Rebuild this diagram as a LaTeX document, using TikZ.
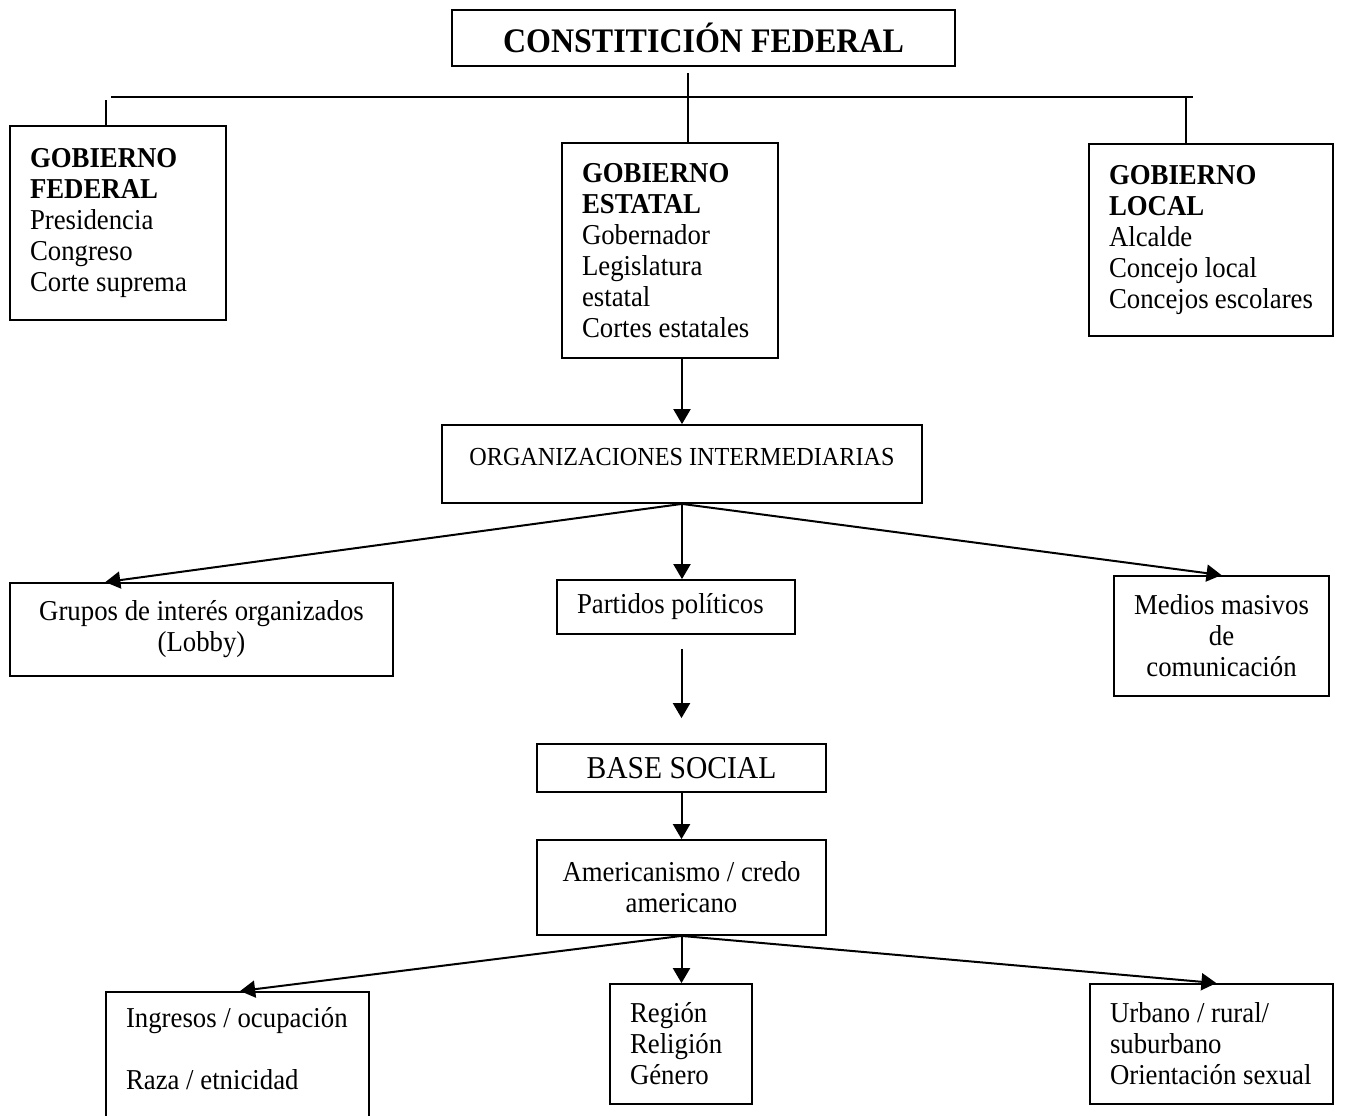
\documentclass[tikz,border=0pt]{standalone}
\usepackage{fontspec}
\setmainfont[FakeStretch=0.93]{Liberation Serif}
\usetikzlibrary{arrows.meta, calc}

\begin{document}
\begin{tikzpicture}[
    x=0.5pt, y=-0.5pt,
    box/.style={rectangle, draw, line width=0.9pt, inner xsep=10pt, inner ysep=3pt, align=flush left, font=\fontsize{14.4}{15.5}\selectfont},
    cbox/.style={box, align=flush center},
    arr/.style={-{Triangle[length=7.5pt, width=8.5pt]}, line width=1pt},
    link/.style={line width=0.9pt}
]
\useasboundingbox (0,0) rectangle (1355,1115);

% Constitution
\node[box, minimum width=251.5pt, minimum height=28pt, font=\fontsize{17.2}{20}\selectfont\bfseries] (const) at (703.5,38) {CONSTITICIÓN FEDERAL};

% Government levels
\node[box, text width=88pt, minimum height=97pt] (federal) at (118,223) {\textbf{GOBIERNO}\\\textbf{FEDERAL}\\Presidencia\\Congreso\\Corte suprema};
\node[box, text width=88pt, minimum height=107.5pt] (estatal) at (670,250.5) {\textbf{GOBIERNO}\\\textbf{ESTATAL}\\Gobernador\\Legislatura\\estatal\\Cortes estatales};
\node[box, text width=102pt, minimum height=96pt] (local) at (1211,240) {\textbf{GOBIERNO}\\\textbf{LOCAL}\\Alcalde\\Concejo local\\Concejos escolares};

% Intermediaries
\node[box, minimum width=240pt, minimum height=39pt, text depth=7pt, font=\fontsize{13}{15}\selectfont] (org) at (682,464) {ORGANIZACIONES INTERMEDIARIAS};
\node[cbox, text width=171.5pt, minimum height=46.5pt] (grupos) at (201.5,629.5) {Grupos de interés organizados\\(Lobby)};
\node[box, text width=99pt, minimum height=27pt] (partidos) at (676,607) {Partidos políticos};
\node[cbox, text width=87.5pt, minimum height=60pt] (medios) at (1221.5,636) {Medios masivos\\de\\comunicación};

% Social base
\node[cbox, text width=124.5pt, minimum height=24pt, font=\fontsize{15.9}{18}\selectfont] (base) at (681.5,768) {BASE SOCIAL};
\node[cbox, text width=124.5pt, minimum height=47.5pt] (amer) at (681.5,887.5) {Americanismo / credo\\americano};
\node[box, text width=111.5pt, minimum height=88pt, anchor=north] (ingresos) at (237.5,991) {Ingresos / ocupación\\[15.5pt]Raza / etnicidad\\[15.5pt]\mbox{}};
\node[box, text width=51pt, minimum height=60pt] (region) at (681,1044) {Región\\Religión\\Género};
\node[box, text width=101.5pt, minimum height=60pt] (urbano) at (1211.5,1044) {Urbano / rural/\\suburbano\\Orientación sexual};

% Bus under the constitution
\coordinate (busL) at (111,97);
\coordinate (busR) at (1193,97);
\coordinate (tickF) at (106,100);
\coordinate (tickE) at (688,73);
\coordinate (tickL) at (1186,97);
\draw[link] (busL) -- (busR);
\draw[link] (tickF) -- (tickF |- federal.north);
\draw[link] (tickE) -- (tickE |- estatal.north);
\draw[link] (tickL) -- (tickL |- local.north);

% Arrows
\draw[arr] (estatal.south -| org.north) -- (org.north);
\draw[arr] (org.south) -- ($(grupos.north west)!0.25!(grupos.north east)$);
\draw[arr] (org.south) -- (org.south |- partidos.north);
\draw[arr] (org.south) -- (medios.north);

\coordinate (pgap) at ($(partidos.south -| base.north)+(0,14)$);
\coordinate (bgap) at ($(base.north)+(0,-25)$);
\draw[arr] (pgap) -- (bgap);

\draw[arr] (base.south) -- (amer.north);
\draw[arr] (amer.south) -- ($(ingresos.north west)!0.51!(ingresos.north east)$);
\draw[arr] (amer.south) -- (amer.south |- region.north);
\draw[arr] (amer.south) -- ($(urbano.north west)!0.52!(urbano.north east)$);

\end{tikzpicture}
\end{document}
